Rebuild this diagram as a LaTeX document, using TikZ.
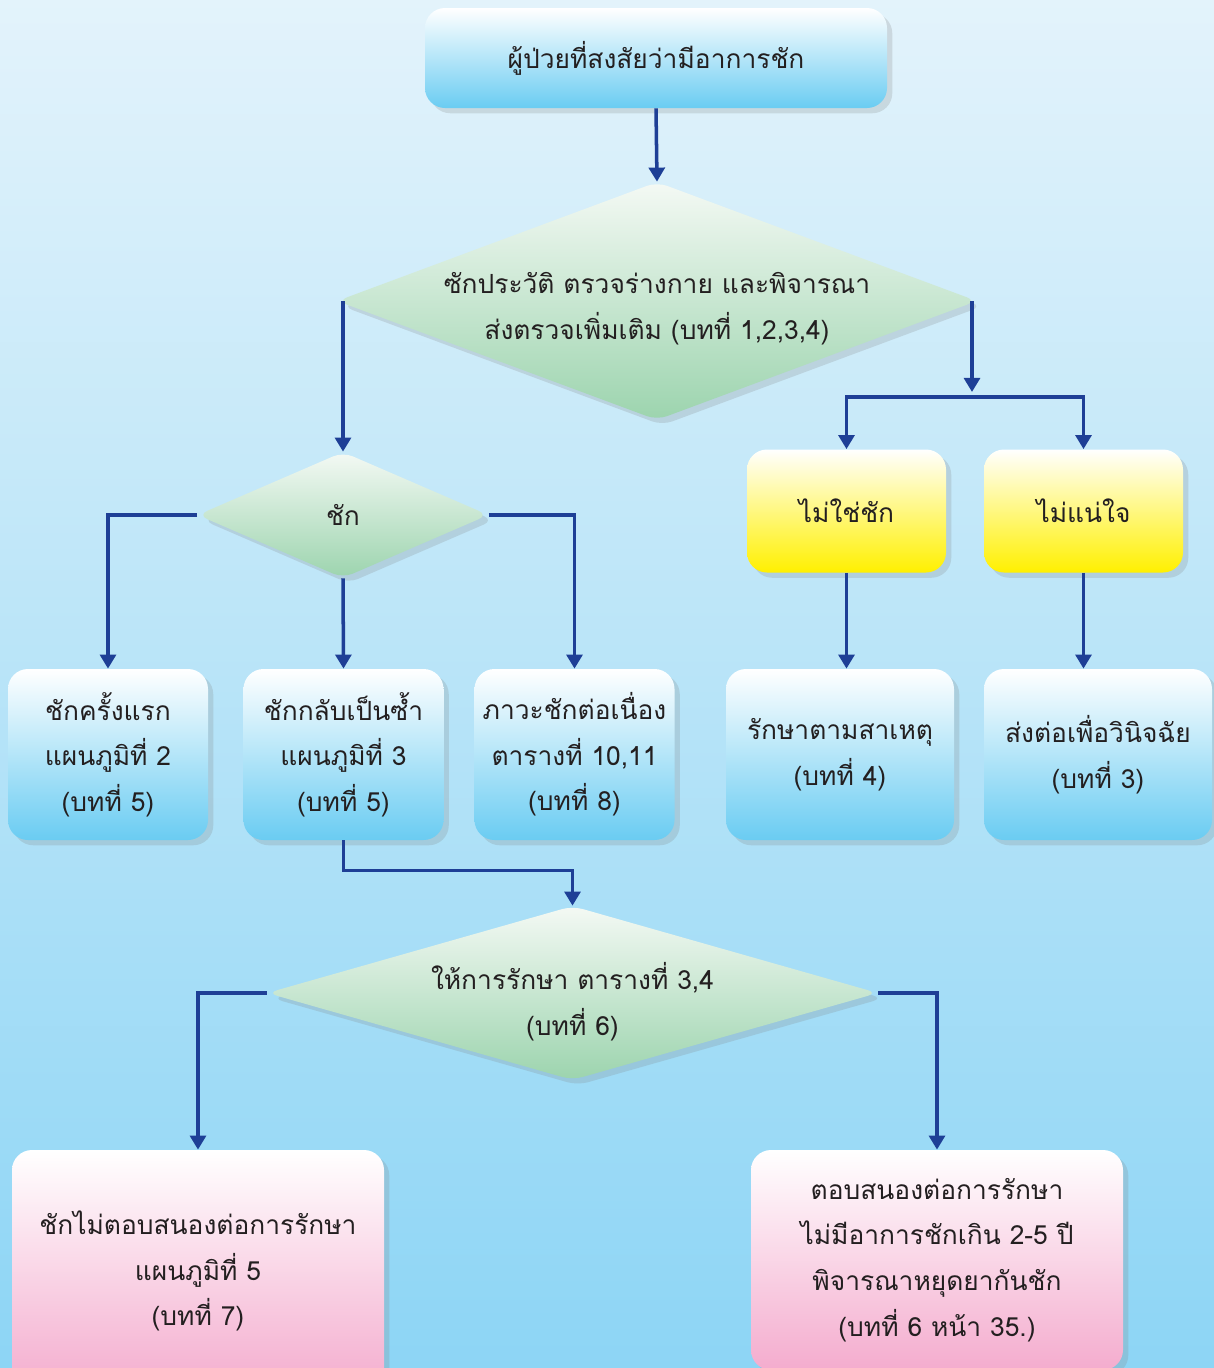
\documentclass[tikz,border=0pt]{standalone}
\usepackage{fontspec}
\newfontfamily\thaifont[Script=Thai]{Loma}
\usetikzlibrary{arrows.meta,shapes.geometric,shadows}
\definecolor{bgtop}{HTML}{E3F3FB}
\definecolor{bgbot}{HTML}{8DD5F5}
\definecolor{boxblue}{HTML}{6ACCF2}
\definecolor{boxyel}{HTML}{FFF000}
\definecolor{boxpink}{HTML}{F4ACCE}
\definecolor{dtop}{HTML}{F4F9F4}
\definecolor{dgreen}{HTML}{9CD4AE}
\definecolor{wire}{HTML}{1E3F96}
\definecolor{txt}{HTML}{231F20}

\begin{document}
\begin{tikzpicture}[
  >={Triangle[width=9pt,length=8pt]},
  box/.style={rounded corners=0.4cm, top color=white, bottom color=#1, minimum width=4cm, minimum height=3.42cm, align=center, text=txt, font=\thaifont\fontsize{15}{26}\selectfont, drop shadow={shadow xshift=3pt, shadow yshift=-3pt, opacity=0.22}},
  box/.default=boxblue,
  dec/.style={diamond, rounded corners=6pt, top color=dtop, bottom color=dgreen, inner sep=0pt, drop shadow={shadow xshift=3pt, shadow yshift=-3pt, opacity=0.22}},
  dtext/.style={align=center, text=txt, font=\thaifont\fontsize{15}{26}\selectfont},
  arr/.style={->, line width=2pt, color=wire},
]

\useasboundingbox (0,0) rectangle (24.28,-27.36);
\fill[top color=bgtop, bottom color=bgbot] (0,0) rectangle (24.28,-27.36);

% top
\node[box, minimum width=9.24cm, minimum height=2cm] (patient) at (13.12,-1.16) {ผู้ป่วยที่สงสัยว่ามีอาการชัก};
\node[dec, minimum width=12.8cm, minimum height=4.76cm] (history) at (13.14,-6.02) {};
\node[dtext, yshift=-0.16cm] (historytxt) at (history) {ซักประวัติ ตรวจร่างกาย และพิจารณา\\ส่งตรวจเพิ่มเติม (บทที่ 1,2,3,4)};

% seizure branch
\node[dec, minimum width=5.82cm, minimum height=2.52cm] (seizure) at (6.86,-10.3) {};
\node[dtext] (seizuretxt) at (seizure) {ชัก};
\node[box] (first) at (2.16,-15.09) {ชักครั้งแรก\\แผนภูมิที่ 2\\(บทที่ 5)};
\node[box] (recur) at (6.87,-15.09) {ชักกลับเป็นซ้ำ\\แผนภูมิที่ 3\\(บทที่ 5)};
\node[box] (status) at (11.49,-15.09) {ภาวะชักต่อเนื่อง\\ตารางที่ 10,11\\(บทที่ 8)};

% not seizure / unsure
\node[box=boxyel, minimum width=3.98cm, minimum height=2.46cm] (notsz) at (16.93,-10.22) {ไม่ใช่ชัก};
\node[box=boxyel, minimum width=3.98cm, minimum height=2.46cm] (unsure) at (21.67,-10.22) {ไม่แน่ใจ};
\node[box, minimum width=4.56cm] (cause) at (16.8,-15.09) {รักษาตามสาเหตุ\\(บทที่ 4)};
\node[box, minimum width=4.56cm] (refer) at (21.96,-15.09) {ส่งต่อเพื่อวินิจฉัย\\(บทที่ 3)};

% treatment
\node[dec, minimum width=12.22cm, minimum height=3.48cm] (treat) at (11.45,-19.86) {};
\node[dtext, yshift=-0.18cm] (treattxt) at (treat) {ให้การรักษา ตารางที่ 3,4\\(บทที่ 6)};
\node[box=boxpink, minimum width=7.44cm, minimum height=4.84cm] (refract) at (3.96,-25.42) {ชักไม่ตอบสนองต่อการรักษา\\แผนภูมิที่ 5\\(บทที่ 7)};
\node[box=boxpink, minimum width=7.44cm, minimum height=4.4cm] (respond) at (18.74,-25.2) {ตอบสนองต่อการรักษา\\ไม่มีอาการชักเกิน 2-5 ปี\\พิจารณาหยุดยากันชัก\\(บทที่ 6 หน้า 35.)};

\coordinate (split) at (19.44,-7.94);

\draw[arr] (patient.south) -- (history.north);
\draw[arr] (history.west -| seizure.north) -- (seizure.north);
\draw[arr] (history.east -| split) -- ([yshift=0.1cm]split);
\draw[arr] (split) -| (notsz.north);
\draw[arr] (split) -| (unsure.north);
\draw[arr] (seizure.west) -| (first.north);
\draw[arr] (seizure.south) -- (recur.north);
\draw[arr] (seizure.east) -| (status.north);
\draw[arr] (notsz.south) -- (notsz.south |- cause.north);
\draw[arr] (unsure.south) -- (unsure.south |- refer.north);
\draw[arr] (recur.south) -- ++(0,-0.6) -| (treat.north);
\draw[arr] (treat.west) -| (refract.north);
\draw[arr] (treat.east) -| (respond.north);

\end{tikzpicture}
\end{document}
